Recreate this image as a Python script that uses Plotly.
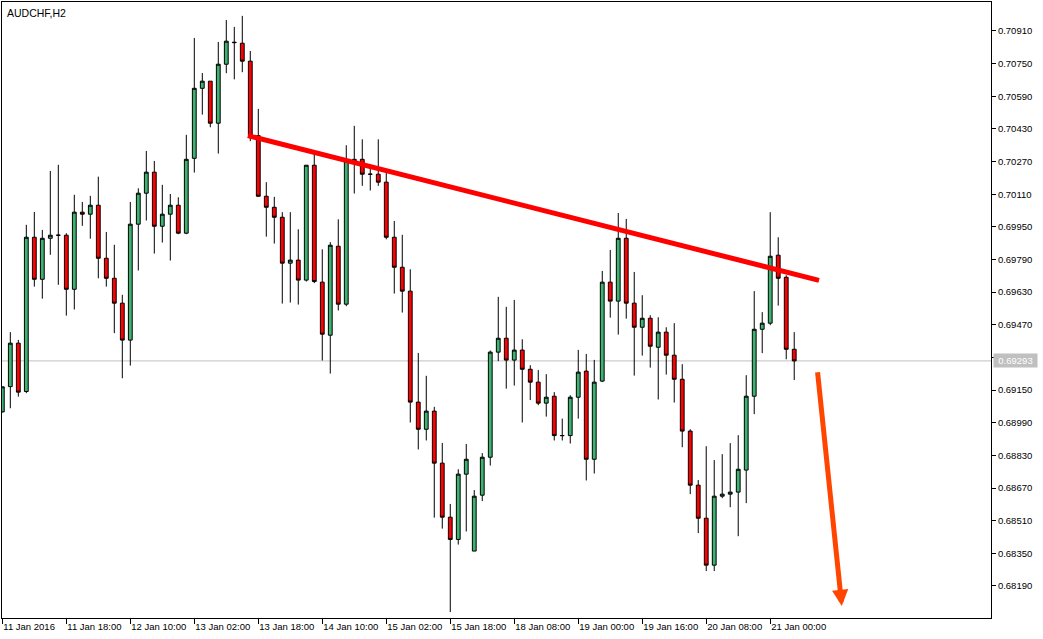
import plotly.graph_objects as go

symbol_title = "AUDCHF,H2"

bar_index = list(range(100))

opens = [0.69043, 0.69167, 0.69380, 0.69143, 0.69899, 0.69693, 0.69894, 0.69909, 0.69909, 0.69644,
         0.70022, 0.70012, 0.70056, 0.69796, 0.69698, 0.69576, 0.69395, 0.69963, 0.70115, 0.70218,
         0.69953, 0.70012, 0.70056, 0.69919, 0.70286, 0.70629, 0.70664, 0.70458, 0.70747, 0.70855,
         0.70850, 0.70762, 0.70397, 0.70100, 0.70046, 0.69997, 0.69772, 0.69787, 0.69689, 0.70252,
         0.69679, 0.69419, 0.69855, 0.69571, 0.70272, 0.70281, 0.70208, 0.70208, 0.70169, 0.69899,
         0.69752, 0.69635, 0.69091, 0.68958, 0.69047, 0.68792, 0.68527, 0.68418, 0.68738, 0.68361,
         0.68635, 0.68821, 0.69336, 0.69404, 0.69297, 0.69346, 0.69252, 0.69189, 0.69086, 0.69120,
         0.68927, 0.68927, 0.69115, 0.69243, 0.68811, 0.69194, 0.69679, 0.69586, 0.69894, 0.69576,
         0.69458, 0.69502, 0.69360, 0.69434, 0.69321, 0.69203, 0.68949, 0.68684, 0.68522, 0.68292,
         0.68630, 0.68640, 0.68650, 0.68758, 0.69120, 0.69448, 0.69478, 0.69811, 0.69703, 0.69350]

highs = [0.69166, 0.69434, 0.69396, 0.69960, 0.70023, 0.69935, 0.70224, 0.70254, 0.69919, 0.70107,
         0.70072, 0.70102, 0.70196, 0.69925, 0.69862, 0.69617, 0.70072, 0.70139, 0.70322, 0.70273,
         0.70156, 0.70111, 0.70095, 0.70401, 0.70876, 0.70704, 0.70664, 0.70856, 0.70964, 0.70930,
         0.70984, 0.70812, 0.70528, 0.70169, 0.70097, 0.70022, 0.70022, 0.69938, 0.70252, 0.70311,
         0.69840, 0.69875, 0.69987, 0.70350, 0.70445, 0.70379, 0.70258, 0.70379, 0.70221, 0.69979,
         0.69911, 0.69742, 0.69332, 0.69220, 0.69068, 0.68891, 0.68592, 0.68762, 0.68886, 0.68660,
         0.68841, 0.69344, 0.69607, 0.69558, 0.69592, 0.69399, 0.69272, 0.69248, 0.69228, 0.69140,
         0.69010, 0.69125, 0.69347, 0.69327, 0.69298, 0.69734, 0.69837, 0.70018, 0.69989, 0.69729,
         0.69615, 0.69517, 0.69507, 0.69458, 0.69478, 0.69277, 0.68958, 0.68709, 0.68875, 0.68807,
         0.68836, 0.68890, 0.68929, 0.69223, 0.69635, 0.69532, 0.70022, 0.69899, 0.69713, 0.69434]

lows = [0.69040, 0.69061, 0.69118, 0.69135, 0.69657, 0.69598, 0.69813, 0.69666, 0.69515, 0.69545,
        0.69955, 0.69892, 0.69698, 0.69657, 0.69429, 0.69208, 0.69270, 0.69736, 0.69981, 0.69819,
        0.69873, 0.69785, 0.69914, 0.69914, 0.70216, 0.70500, 0.70438, 0.70309, 0.70703, 0.70673,
        0.70708, 0.70370, 0.70097, 0.69902, 0.69868, 0.69574, 0.69579, 0.69569, 0.69682, 0.69674,
        0.69295, 0.69231, 0.69540, 0.69561, 0.70113, 0.70151, 0.70128, 0.70151, 0.69889, 0.69623,
        0.69530, 0.68991, 0.68859, 0.68903, 0.68525, 0.68471, 0.68062, 0.68393, 0.68457, 0.68361,
        0.68606, 0.68780, 0.69292, 0.69157, 0.69172, 0.68991, 0.69101, 0.69076, 0.69020, 0.68903,
        0.68903, 0.68888, 0.69010, 0.68707, 0.68741, 0.69189, 0.69505, 0.69422, 0.69500, 0.69221,
        0.69319, 0.69260, 0.69104, 0.69226, 0.69089, 0.68870, 0.68640, 0.68449, 0.68263, 0.68263,
        0.68620, 0.68576, 0.68434, 0.68596, 0.69032, 0.69331, 0.69468, 0.69564, 0.69301, 0.69199]

closes = [0.69166, 0.69380, 0.69140, 0.69899, 0.69693, 0.69894, 0.69909, 0.69909, 0.69644, 0.70022,
          0.70012, 0.70056, 0.69796, 0.69698, 0.69576, 0.69395, 0.69963, 0.70115, 0.70218, 0.69953,
          0.70012, 0.70056, 0.69919, 0.70281, 0.70629, 0.70664, 0.70458, 0.70747, 0.70860, 0.70853,
          0.70762, 0.70397, 0.70100, 0.70046, 0.69997, 0.69772, 0.69787, 0.69689, 0.70252, 0.69682,
          0.69424, 0.69860, 0.69571, 0.70272, 0.70281, 0.70208, 0.70208, 0.70169, 0.69899, 0.69752,
          0.69635, 0.69091, 0.68958, 0.69047, 0.68792, 0.68527, 0.68418, 0.68738, 0.68811, 0.68630,
          0.68821, 0.69336, 0.69404, 0.69297, 0.69346, 0.69252, 0.69189, 0.69086, 0.69115, 0.68927,
          0.68927, 0.69115, 0.69238, 0.68811, 0.69189, 0.69679, 0.69586, 0.69894, 0.69576, 0.69458,
          0.69502, 0.69365, 0.69434, 0.69321, 0.69203, 0.68949, 0.68684, 0.68522, 0.68292, 0.68630,
          0.68640, 0.68650, 0.68762, 0.69120, 0.69448, 0.69478, 0.69806, 0.69698, 0.69350, 0.69293]

current_price = 0.69293
current_price_label = "0.69293"

x_tick_index = [0, 8, 16, 24, 32, 40, 48, 56, 64, 72, 80, 88, 96]
x_tick_labels = ["11 Jan 2016", "11 Jan 18:00", "12 Jan 10:00", "13 Jan 02:00", "13 Jan 18:00",
                 "14 Jan 10:00", "15 Jan 02:00", "15 Jan 18:00", "18 Jan 08:00", "19 Jan 00:00",
                 "19 Jan 16:00", "20 Jan 08:00", "21 Jan 00:00"]

y_tick_values = [0.70910, 0.70750, 0.70590, 0.70430, 0.70270, 0.70110, 0.69950, 0.69790, 0.69630,
                 0.69470, 0.69310, 0.69150, 0.68990, 0.68830, 0.68670, 0.68510, 0.68350, 0.68190]

trend_x = [30.7, 102.1]
trend_y = [0.70397, 0.69688]

arrow_start_x, arrow_start_y = 101.9, 0.69245
arrow_tip_x, arrow_tip_y = 104.95, 0.68092

FONT = "Liberation Sans"

fig = go.Figure()
fig.add_trace(go.Candlestick(
    x=bar_index, open=opens, high=highs, low=lows, close=closes,
    increasing=dict(fillcolor="#3CB371", line=dict(color="#000000", width=1)),
    decreasing=dict(fillcolor="#FF0000", line=dict(color="#000000", width=1)),
    whiskerwidth=0, showlegend=False, hoverinfo="skip",
))

fig.add_shape(type="line", xref="paper", x0=0, x1=1, yref="y", y0=current_price, y1=current_price,
              line=dict(color="#C0C0C0", width=1), layer="below")

fig.add_shape(type="line", xref="x", yref="y", x0=trend_x[0], y0=trend_y[0], x1=trend_x[1], y1=trend_y[1],
              line=dict(color="#FF0000", width=5), layer="above")

fig.add_annotation(x=arrow_tip_x, y=arrow_tip_y, ax=arrow_start_x, ay=arrow_start_y,
                   xref="x", yref="y", axref="x", ayref="y", text="", showarrow=True,
                   arrowhead=2, arrowsize=0.65, arrowwidth=5, arrowcolor="#FF4500")

fig.add_annotation(xref="paper", x=1, xanchor="left", xshift=2, yref="y", y=current_price,
                   yanchor="middle", text=current_price_label, showarrow=False,
                   width=43, height=13, align="center",
                   bgcolor="#C0C0C0", font=dict(family=FONT, size=9.5, color="#FFFFFF"),
                   borderpad=0)

fig.add_annotation(xref="paper", x=0, xanchor="left", xshift=3, yref="paper", y=1, yanchor="top",
                   yshift=-3, text=symbol_title, showarrow=False,
                   font=dict(family=FONT, size=10.5, color="#000000"))

fig.update_layout(
    width=1043, height=639,
    margin=dict(l=2, r=52, t=2, b=21),
    paper_bgcolor="#FFFFFF", plot_bgcolor="#FFFFFF",
    boxgap=0.32,
    font=dict(family=FONT, size=9.5, color="#000000"),
    xaxis=dict(range=[-0.04, 123.6], showgrid=False, zeroline=False, rangeslider=dict(visible=False),
               tickmode="array", tickvals=x_tick_index, ticktext=x_tick_labels,
               ticks="outside", ticklen=5, tickcolor="#000000", tickwidth=1,
               ticklabelposition="outside right",
               showline=True, linecolor="#000000", linewidth=1, mirror=True,
               tickfont=dict(family=FONT, size=9.5, color="#000000")),
    yaxis=dict(range=[0.68033, 0.71052], side="right", showgrid=False, zeroline=False,
               tickmode="array", tickvals=y_tick_values, ticktext=[f"{v:.5f}" for v in y_tick_values],
               ticks="outside", ticklen=4, tickcolor="#000000", tickwidth=1,
               showline=True, linecolor="#000000", linewidth=1, mirror=True,
               tickfont=dict(family=FONT, size=9.5, color="#000000")),
)

fig.write_html(
    "out.html",
    config={"displayModeBar": False},
    post_script="document.body.style.margin='0';document.body.style.padding='0';document.body.style.overflow='hidden';",
)
